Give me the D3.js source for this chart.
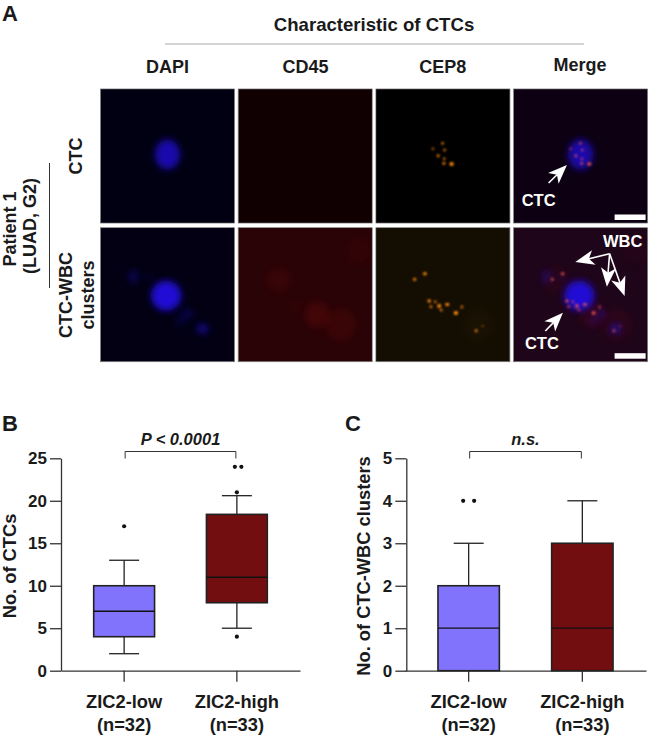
<!DOCTYPE html>
<html>
<head>
<meta charset="utf-8">
<script src="https://cdn.jsdelivr.net/npm/d3@7"></script>
<style>
html, body { margin: 0; padding: 0; background: #fff; }
text { font-family: "Liberation Sans", Arial, sans-serif; font-weight: bold; fill: #1a1a1a; }
</style>
</head>
<body>
<svg id="fig" width="650" height="735"></svg>
<script>
var groups = ['ZIC2-low', 'ZIC2-high'];
var groupCounts = ['(n=32)', '(n=33)'];
var groupColors = ['#8173fb', '#720e10'];

// box stats
var ctcStats = [
    { lo: 2, q1: 4, med: 7, q3: 10, hi: 13 },
    { lo: 5, q1: 8, med: 11, q3: 18.4, hi: 20.6 }
];
var clusterStats = [
    { lo: 0, q1: 0, med: 1, q3: 2, hi: 3 },
    { lo: 0, q1: 0, med: 1, q3: 3, hi: 4 }
];
// outliers: group index, value, sideways nudge in px
var ctcOutliers = [[0, 17, 0], [1, 24, -2], [1, 24, 4.5], [1, 21, 0], [1, 4, 0]];
var clusterOutliers = [[0, 4, -5.5], [0, 4, 5.5]];
var ctcTicks = [0, 5, 10, 15, 20, 25];
var clusterTicks = [0, 1, 2, 3, 4, 5];

var stainNames = ['DAPI', 'CD45', 'CEP8', 'Merge'];
var stainBackground = [
    ['#010012', '#110002', '#010000', '#0c0012'],
    ['#020012', '#2a0306', '#140e02', '#1f0519']
];

// micrograph features, in px inside a 134 px tile: x, y, rx, ry, opacity
var nucleiCtc = [[67, 65.5, 12.5, 15, 0.75]];
var nucleiCluster = [
    [65.7, 68, 15, 15, 0.95], [33, 49, 5, 7, 0.3], [48, 50, 4, 3, 0.16],
    [87, 86, 6, 5, 0.28], [80, 93, 5, 5, 0.2], [102, 101, 6, 5, 0.55]
];
var redCluster = [
    [41, 52, 12, 12, 0.09], [79, 87, 12, 13, 0.16], [102.7, 97, 15, 16, 0.11],
    [58, 78, 6, 4, 0.07], [121, 23, 13, 14, 0.05]
];
var spotsCtc = [
    [66.7, 54.3, 1.5, 1.5, 0.75], [57, 59.7, 1.5, 1.5, 0.55], [68.7, 61, 1.6, 1.6, 0.7],
    [62.3, 66.7, 1.7, 1.7, 0.75], [68.3, 69.7, 1.5, 1.5, 0.7], [68, 74.3, 1.6, 1.6, 0.85],
    [75.7, 75, 2.2, 2, 1]
];
var spotsCluster = [
    [49, 46, 2, 1.7, 0.9], [38.7, 51.7, 1.8, 1.8, 0.75], [53.3, 73.3, 1.8, 1.8, 0.95],
    [59.3, 74, 1.5, 1.5, 0.7], [55, 79, 1.6, 1.6, 0.7], [63.3, 78.3, 2, 2.3, 0.9],
    [65.3, 82.3, 1.5, 1.5, 0.8], [71.3, 76.7, 2.2, 1.7, 0.95], [86, 79.3, 1.5, 2, 0.6],
    [80, 85.3, 2.2, 2, 1], [100.3, 103, 1.6, 1.8, 0.75], [106.7, 98.3, 1.5, 0.9, 0.4]
];
// arrows in the merge tiles: tail x, tail y, tip x, tip y
var arrowsCtc = [[35, 94, 53.3, 76]];
var arrowsCluster = [
    [31.7, 103.3, 49.3, 85], [96, 26, 61.7, 34.3], [96, 26, 93.3, 59], [96, 26, 111, 68.3]
];

var svg = d3.select('#fig');
var defs = svg.append('defs');

function addBlur(id, dev) {
    defs.append('filter').attr('id', id)
        .attr('x', '-100%').attr('y', '-100%').attr('width', '300%').attr('height', '300%')
        .append('feGaussianBlur').attr('stdDeviation', dev);
}
addBlur('soft', 3.5);
addBlur('spot', 1);

var tileX = d3.scaleBand().domain(stainNames).range([100.5, 647.6]).paddingInner(0.027).paddingOuter(0);
var tileY = d3.scaleBand().domain([0, 1]).range([89, 361.7]).paddingInner(0.034).paddingOuter(0);
var tileSize = 134;
var inner = d3.scaleLinear().domain([0, 134]).range([0, tileSize]);

function blobs(g, data, color, filter, fade) {
    g.selectAll(null)
        .data(data)
        .enter().append('ellipse')
        .attr('cx', function (d) { return inner(d[0]); })
        .attr('cy', function (d) { return inner(d[1]); })
        .attr('rx', function (d) { return d[2]; })
        .attr('ry', function (d) { return d[3]; })
        .attr('fill', color)
        .attr('opacity', function (d) { return d[4] * (fade || 1); })
        .attr('filter', 'url(#' + filter + ')');
}

function arrow(g, a) {
    var x1 = inner(a[0]), y1 = inner(a[1]), x2 = inner(a[2]), y2 = inner(a[3]);
    var ang = Math.atan2(y2 - y1, x2 - x1) * 180 / Math.PI;
    var len = Math.sqrt((x2 - x1) * (x2 - x1) + (y2 - y1) * (y2 - y1));
    var one = g.append('g').attr('transform', 'translate(' + x2 + ',' + y2 + ') rotate(' + ang + ')');
    one.append('line').attr('x1', -len).attr('x2', -10).attr('stroke', '#fff').attr('stroke-width', 1.6);
    one.append('path').attr('d', 'M0,0L-19,-7.5L-14,0L-19,7.5Z').attr('fill', '#fff');
}

function tileLabel(g, x, y, label) {
    g.append('text').attr('x', x).attr('y', y).attr('text-anchor', 'middle')
        .attr('font-size', 16.5).style('fill', '#fff').text(label);
}

[0, 1].forEach(function (row) {
    stainNames.forEach(function (stain, col) {
        var g = svg.append('g')
            .attr('transform', 'translate(' + tileX(stain) + ',' + tileY(row) + ')');
        var clipId = 'clip' + row + col;
        defs.append('clipPath').attr('id', clipId)
            .append('rect').attr('width', tileSize).attr('height', tileSize);
        var body = g.append('g').attr('clip-path', 'url(#' + clipId + ')');
        body.append('rect').attr('width', tileSize).attr('height', tileSize)
            .attr('fill', stainBackground[row][col]);

        var nuclei = row === 0 ? nucleiCtc : nucleiCluster;
        var spots = row === 0 ? spotsCtc : spotsCluster;
        if (row === 1 && col === 1) blobs(body, redCluster, '#c01818', 'soft');
        if (row === 1 && col === 3) blobs(body, redCluster, '#c01818', 'soft', 0.7);
        if (row === 1 && col === 2) blobs(body, redCluster.slice(2, 3), '#4a2a08', 'soft');
        if (col === 0 || col === 3) blobs(body, nuclei, '#2410e0', 'soft');
        if (col === 2) blobs(body, spots, '#ff8a14', 'spot');
        if (col === 3) blobs(body, spots, '#ff5a50', 'spot', 0.75);

        g.append('rect').attr('width', tileSize).attr('height', tileSize)
            .attr('fill', 'none').attr('stroke', '#666').attr('stroke-width', 0.7);

        if (col === 3) {
            (row === 0 ? arrowsCtc : arrowsCluster).forEach(function (a) { arrow(g, a); });
            g.append('rect').attr('x', inner(101)).attr('y', inner(125.5))
                .attr('width', 31).attr('height', 5.5).attr('fill', '#fff');
            if (row === 0) {
                tileLabel(g, inner(25), inner(116.5), 'CTC');
            } else {
                tileLabel(g, inner(28.3), inner(121.5), 'CTC');
                tileLabel(g, inner(109), inner(19.5), 'WBC');
            }
        }
    });
});

function text(x, y, size, label, anchor) {
    return svg.append('text').attr('x', x).attr('y', y).attr('font-size', size)
        .attr('text-anchor', anchor || 'middle').text(label);
}
function vtext(x, y, size, label) {
    return svg.append('text').attr('transform', 'translate(' + x + ',' + y + ') rotate(-90)')
        .attr('font-size', size).attr('text-anchor', 'middle').text(label);
}

text(2, 20.5, 22, 'A', 'start');
text(2, 430.5, 22, 'B', 'start');
text(345, 430.5, 22, 'C', 'start');

text(374, 30.5, 18.6, 'Characteristic of CTCs');
svg.append('line').attr('x1', 165).attr('x2', 584).attr('y1', 44).attr('y2', 44)
    .attr('stroke', '#aaa').attr('stroke-width', 1.2);
text(167.5, 73, 18, 'DAPI');
text(305.5, 73, 18, 'CD45');
text(442.7, 73, 18, 'CEP8');
text(580, 71, 18, 'Merge');

vtext(82, 156, 18, 'CTC');
vtext(72, 295, 18, 'CTC-WBC');
vtext(94, 295, 18, 'clusters');
vtext(15.5, 229, 18, 'Patient 1');
vtext(36, 226, 18, '(LUAD, G2)');
svg.append('line').attr('x1', 49.5).attr('x2', 49.5).attr('y1', 163).attr('y2', 288)
    .attr('stroke', '#333').attr('stroke-width', 1);

function boxplot(opt) {
    var x = d3.scaleBand().domain(groups).range(opt.xRange).paddingInner(0.46).paddingOuter(0.29);
    var y = d3.scaleLinear().domain(d3.extent(opt.ticks)).range([670.7, 458.3]);
    var box = x.bandwidth();
    var g = svg.append('g');

    var yAxis = g.append('g')
        .attr('transform', 'translate(' + opt.xAxisAt + ',0)')
        .call(d3.axisLeft(y).tickValues(opt.ticks).tickFormat(d3.format('d')).tickSize(11).tickSizeOuter(0).tickPadding(3));
    var xAxis = g.append('g')
        .attr('transform', 'translate(0,670.7)')
        .call(d3.axisBottom(x).tickSize(11).tickSizeOuter(0).tickFormat(''));
    [yAxis, xAxis].forEach(function (a) {
        a.selectAll('.domain, .tick line').attr('stroke', '#333').attr('stroke-width', 1.3);
    });
    yAxis.selectAll('.tick text').attr('font-size', 17);

    var item = g.selectAll('.box')
        .data(opt.stats)
        .enter().append('g')
        .attr('class', 'box')
        .attr('transform', function (d, i) { return 'translate(' + (x(groups[i]) + box / 2) + ',0)'; });

    // whiskers first so the box covers them
    item.append('line').attr('y1', function (d) { return y(d.lo); }).attr('y2', function (d) { return y(d.hi); })
        .attr('stroke', '#222').attr('stroke-width', 1.3);
    [['hi'], ['lo']].forEach(function (k) {
        item.filter(function (d) { return d[k[0]] > 0; })
            .append('line').attr('x1', -15).attr('x2', 15)
            .attr('y1', function (d) { return y(d[k[0]]); })
            .attr('y2', function (d) { return y(d[k[0]]); })
            .attr('stroke', '#222').attr('stroke-width', 1.3);
    });
    item.append('rect').attr('x', -box / 2).attr('width', box)
        .attr('y', function (d) { return y(d.q3); })
        .attr('height', function (d) { return y(d.q1) - y(d.q3); })
        .attr('fill', function (d, i) { return groupColors[i]; })
        .attr('stroke', '#222').attr('stroke-width', 1.6);
    item.append('line').attr('x1', -box / 2).attr('x2', box / 2)
        .attr('y1', function (d) { return y(d.med); }).attr('y2', function (d) { return y(d.med); })
        .attr('stroke', '#111').attr('stroke-width', 1.3);

    g.selectAll('.out')
        .data(opt.outliers)
        .enter().append('circle')
        .attr('class', 'out')
        .attr('cx', function (d) { return x(groups[d[0]]) + box / 2 + d[2]; })
        .attr('cy', function (d) { return y(d[1]); })
        .attr('r', 2.1)
        .attr('fill', '#111');

    groups.forEach(function (name, i) {
        var cx = x(name) + box / 2;
        text(cx, 708, 18.3, name);
        text(cx, 730.5, 18.3, groupCounts[i]);
    });

    // significance bracket
    var x0 = x(groups[0]) + box / 2 + 1, x1 = x(groups[1]) + box / 2 - 1;
    g.append('path').attr('d', d3.line()([[x0, 458.5], [x0, 451.5], [x1, 451.5], [x1, 458.5]]))
        .attr('fill', 'none').attr('stroke', '#333').attr('stroke-width', 1);
    text((x0 + x1) / 2, 444.5, 16.5, opt.note).style('font-style', 'italic');

    vtext(opt.titleX, 566, 18.3, opt.title);
}

boxplot({
    xRange: [61, 300], xAxisAt: 61, ticks: ctcTicks, stats: ctcStats, outliers: ctcOutliers,
    note: 'P < 0.0001', title: 'No. of CTCs', titleX: 15.5
});
boxplot({
    xRange: [405, 646], xAxisAt: 406.3, ticks: clusterTicks, stats: clusterStats, outliers: clusterOutliers,
    note: 'n.s.', title: 'No. of CTC-WBC clusters', titleX: 369.5
});
</script>
</body>
</html>
